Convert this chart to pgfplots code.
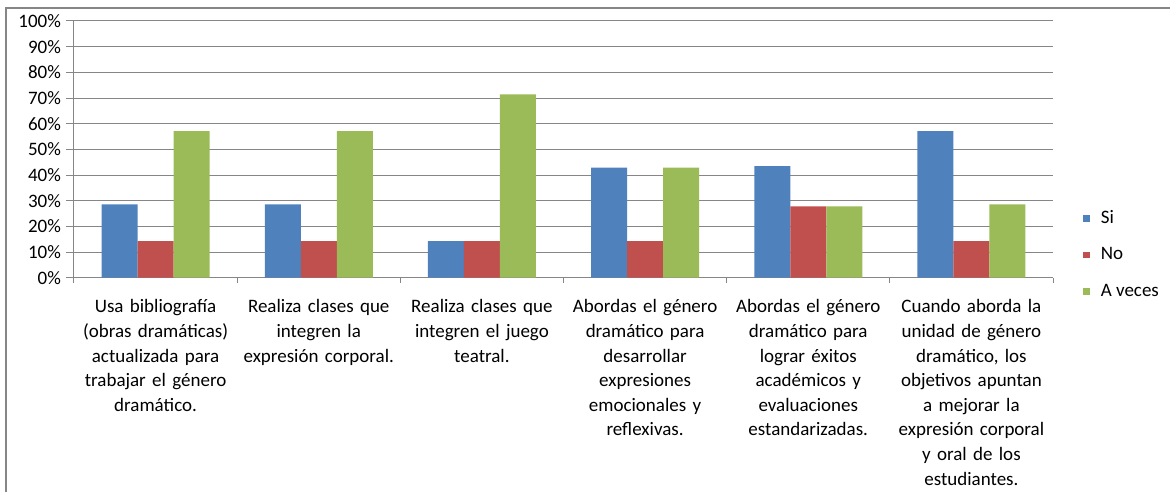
\documentclass[border=0pt]{standalone}
\usepackage{fontspec}
\setmainfont{Carlito}
\usepackage{pgfplots}
\pgfplotsset{compat=1.18}
\definecolor{sib}{RGB}{79,129,189}
\definecolor{nor}{RGB}{192,80,77}
\definecolor{avg}{RGB}{155,187,89}
\definecolor{gridc}{RGB}{134,134,134}
\begin{document}
\begin{tikzpicture}
\useasboundingbox (-37pt,-107.15pt) rectangle (548pt,138.85pt);
\draw[gridc, line width=0.6pt] (-34pt,-107.15pt) -- (-34pt,134.85pt) -- (548pt,134.85pt);
\begin{axis}[
  at={(0pt,0pt)}, anchor=south west,
  scale only axis, width=489.5pt, height=128.35pt,
  xmin=0.5, xmax=6.5, ymin=0, ymax=100,
  ybar=0pt, bar width=18pt,
  axis x line*=bottom, axis y line*=left,
  axis line style={gridc, line width=0.5pt, -},
  tick style={gridc, line width=0.5pt},
  tick align=outside,
  xtick={1,...,6},
  major x tick style={draw=none},
  minor xtick={0.5,1.5,...,6.5},
  minor tick length=2.5pt,
  major tick length=4pt,
  ytick={0,10,...,100},
  ymajorgrids, grid style={gridc, line width=0.5pt},
  /pgf/number format/assume math mode=true,
  yticklabel={\pgfmathprintnumber{\tick}\%},
  tick label style={font=\fontsize{9.5}{12.3}\selectfont, text=black},
  yticklabel style={xshift=1pt},
  xticklabel style={align=center, text width=80pt, anchor=north, yshift=-3.5pt},
  xticklabels={
    {Usa bibliografía\\(obras dramáticas)\\actualizada para\\trabajar el género\\dramático.},
    {Realiza clases que\\integren la\\expresión corporal.},
    {Realiza clases que\\integren el juego\\teatral.},
    {Abordas el género\\dramático para\\desarrollar\\expresiones\\emocionales y\\reflexivas.},
    {Abordas el género\\dramático para\\lograr éxitos\\académicos y\\evaluaciones\\estandarizadas.},
    {Cuando aborda la\\unidad de género\\dramático, los\\objetivos apuntan\\a mejorar la\\expresión corporal\\y oral de los\\estudiantes.}
  },
  legend style={at={(1,0.0966)}, anchor=west, xshift=15pt, yshift=-1pt, draw=none, fill=none,
    inner sep=0pt, row sep=9.2pt, font=\fontsize{9.5}{12.3}\selectfont,
    nodes={inner sep=0pt, text height=7pt, text depth=2pt}},
  legend cell align=left,
  legend image code/.code={\fill[#1] (0pt,-1.6pt) rectangle (3.2pt,1.6pt);},
]
\addplot[fill=sib, draw=none] coordinates {(1,28.57) (2,28.57) (3,14.29) (4,42.86) (5,43.5) (6,57.14)};
\addplot[fill=nor, draw=none] coordinates {(1,14.29) (2,14.29) (3,14.29) (4,14.29) (5,27.8) (6,14.29)};
\addplot[fill=avg, draw=none] coordinates {(1,57.14) (2,57.14) (3,71.43) (4,42.86) (5,27.8) (6,28.57)};
\legend{\hspace{5.5pt}Si,\hspace{5.5pt}No,\hspace{5.5pt}A veces}
\end{axis}
\end{tikzpicture}
\end{document}
